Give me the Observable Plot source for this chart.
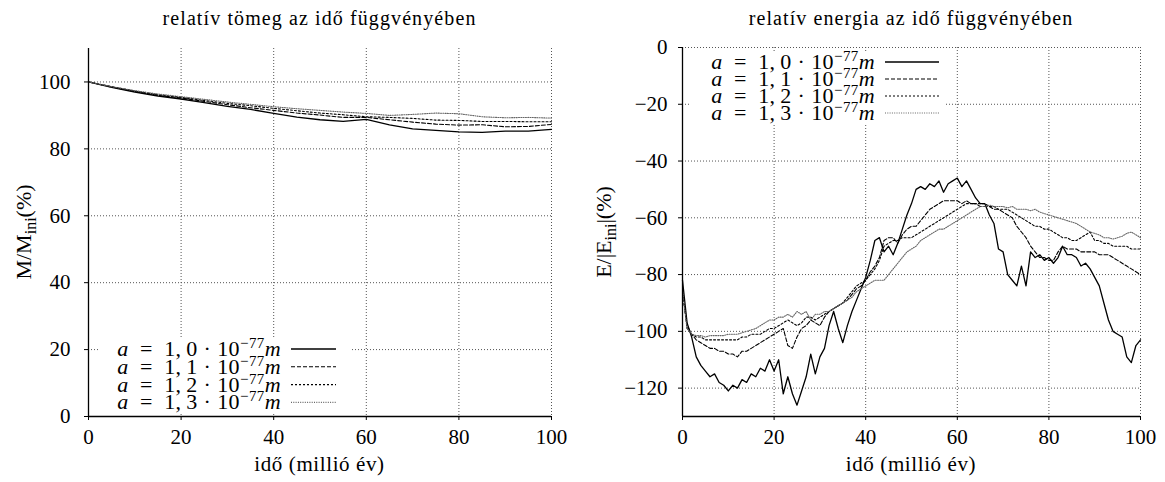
<!DOCTYPE html>
<html><head><meta charset="utf-8">
<script src="https://cdn.jsdelivr.net/npm/d3@7"></script>
<script src="https://cdn.jsdelivr.net/npm/@observablehq/plot@0.6"></script>
<style>
body{margin:0;background:#fff;font-family:"Liberation Serif",serif;}
#wrap{display:flex;width:1165px;height:482px;overflow:hidden;}
.panel{position:relative;}
.title{height:40px;box-sizing:border-box;padding-top:7px;font-size:20px;line-height:22px;text-align:center;color:#000;letter-spacing:1.1px;white-space:nowrap;}
svg text{white-space:pre;}
</style></head><body>
<div id="wrap"><div class="panel" id="left"></div><div class="panel" id="right"></div></div>
<script>
// ---------- data ----------
const seriesNames = ["1,0", "1,1", "1,2", "1,3"];
const titles = ["relatív tömeg az idő függvényében", "relatív energia az idő függvényében"];
const xLabel = "idő (millió év)";
const xTicks = [0, 20, 40, 60, 80, 100];
const massTicks = [0, 20, 40, 60, 80, 100];
const energyTicks = [0, -20, -40, -60, -80, -100, -120];

const timeMass = [0,5,10,15,20,25,30,35,40,45,50,55,60,65,70,75,80,85,90,95,100];
const mass10 = [100,98.4,97.0,95.8,94.9,93.8,92.7,91.8,90.6,89.5,88.7,88.2,88.8,87.2,86.0,85.5,85.1,84.9,85.3,85.3,85.8];
const mass11 = [100,98.5,97.2,96.0,95.2,94.2,93.2,92.3,91.5,90.7,90.1,89.4,89.4,88.7,88.0,87.4,87.1,87.2,86.6,86.7,87.3];
const mass12 = [100,98.6,97.3,96.2,95.4,94.5,93.6,92.9,92.1,91.4,90.7,90.2,89.6,89.4,89.1,88.6,88.5,88.2,88.2,88.1,88.1];
const mass13 = [100,98.6,97.4,96.4,95.6,94.8,94.0,93.3,92.6,92.0,91.5,91.0,90.6,90.0,90.3,90.7,90.5,89.6,89.3,89.4,89.2];

const timeEnergy = Array.from({length: 101}, (_, i) => i);
const energy10 = [-82,-97,-102,-109,-112,-114,-116,-115,-118,-119,
 -121,-119,-120,-117,-118,-115,-116,-113,-114,-110,
 -114,-110,-122,-116,-122,-126,-121,-116,-108,-115,
 -109,-106,-98,-93,-99,-104,-98,-93,-89,-85,
 -81,-75,-68,-67,-72,-70,-73,-69,-64,-59,
 -55,-50,-49,-50,-48,-49,-47,-51,-48,-47,
 -46,-49,-47,-50,-53,-55,-55,-59,-62,-71,
 -72,-80,-82,-84,-77,-84,-72,-74,-73,-75,
 -74,-76,-74,-70,-73,-73,-74,-77,-76,-78,
 -81,-84,-90,-96,-100,-101,-102,-109,-111,-105,-103];
const energy11 = [-86,-98,-101,-103,-104,-105,-106,-106,-107,-107,
 -108,-108,-109,-107,-107,-106,-105,-104,-103,-102,
 -101,-100,-99,-105,-106,-102,-99,-98,-96,-97,
 -98,-95,-93,-92,-91,-90,-89,-87,-85,-84,
 -82,-79,-77,-74,-68,-67,-67,-69,-66,-64,
 -63,-63,-61,-59,-57,-56,-55,-54,-54,-54,
 -54,-55,-54,-55,-55,-56,-56,-56,-57,-57,
 -58,-59,-60,-63,-65,-67,-70,-72,-74,-74,
 -75,-75,-72,-70,-71,-71,-71,-72,-72,-72,
 -72,-73,-73,-73,-74,-75,-76,-77,-78,-79,-80];
const energy12 = [-86,-99,-101,-102,-102,-103,-103,-103,-103,-103,
 -103,-103,-103,-102,-102,-101,-101,-101,-100,-99,
 -99,-98,-97,-96,-97,-98,-97,-95,-95,-96,
 -95,-94,-93,-92,-91,-90,-88,-86,-84,-83,
 -82,-80,-78,-75,-70,-69,-68,-68,-67,-67,
 -67,-66,-65,-64,-63,-62,-61,-60,-59,-58,
 -57,-56,-55,-55,-55,-55,-55,-56,-56,-57,
 -57,-57,-58,-59,-60,-61,-62,-63,-63,-64,
 -64,-65,-66,-67,-67,-68,-68,-67,-66,-65,
 -68,-68,-69,-69,-70,-70,-70,-70,-71,-71,-71];
const energy13 = [-86,-99,-101,-101.5,-101.5,-102,-101.5,-101.5,-101.5,-101.5,
 -101,-101,-101,-100.5,-100,-99.5,-99,-98,-97,-96,
 -96,-95,-95,-94,-95,-93,-94,-93,-96,-94,
 -94,-93,-93,-92,-91,-90,-89,-88,-86,-85,
 -84,-83,-82,-82,-82,-80,-78,-76,-74,-72,
 -71,-70,-68,-67,-66,-65,-64,-64,-63,-62,
 -61,-60,-59,-58,-57,-56,-56,-55.5,-56,-56,
 -56,-56.5,-56,-57,-57,-57,-57.5,-57,-58,-58.5,
 -59,-59.5,-60,-60.5,-61,-61.5,-62,-63,-64,-65,
 -65.5,-66,-67,-67,-67.5,-67,-66.5,-65.5,-65,-66,-67];

const massSeries = [mass10, mass11, mass12, mass13];
const energySeries = [energy10, energy11, energy12, energy13];

// ---------- styles ----------
const lineStyles = [
  {stroke: "#000", strokeWidth: 1.3, strokeDasharray: null},
  {stroke: "#000", strokeWidth: 1.1, strokeDasharray: "4,2"},
  {stroke: "#000", strokeWidth: 1.1, strokeDasharray: "2,2"},
  {stroke: "#666", strokeWidth: 1.1, strokeDasharray: "1,1.3"}
];
const gridStyle = {stroke: "#555", strokeOpacity: 1, strokeWidth: 1, strokeDasharray: "1,2"};
const FONT = "Liberation Serif";

function tidy(times, vals) { return times.map((t, i) => ({t, v: vals[i]})); }

function makePanel(cfg) {
  const host = document.getElementById(cfg.id);
  host.style.width = cfg.width + "px";
  const title = document.createElement("div");
  title.className = "title";
  title.style.paddingLeft = cfg.marginLeft + "px";
  title.style.paddingRight = cfg.marginRight + "px";
  title.textContent = cfg.title;
  host.appendChild(title);

  const marks = [
    Plot.gridX(cfg.xGrid, gridStyle),
    Plot.gridY(cfg.yGrid, gridStyle),
    ...cfg.series.map((vals, i) => Plot.line(tidy(cfg.times, vals), {x: "t", y: "v", ...lineStyles[i], strokeLinejoin: "round"})),
    Plot.ruleX([0], {stroke: "#000", strokeWidth: 1.3}),
    Plot.ruleY([cfg.yDomain[0]], {stroke: "#000", strokeWidth: 1.3}),
    Plot.axisX({ticks: xTicks, tickSize: 4, tickPadding: 9, label: null, fontSize: 21}),
    Plot.axisY({ticks: cfg.yTicks, tickSize: 4, tickPadding: cfg.yPad, label: null, fontSize: 21})
  ];
  const svg = Plot.plot({
    width: cfg.width, height: 442,
    marginLeft: cfg.marginLeft, marginRight: cfg.marginRight, marginTop: cfg.marginTop, marginBottom: 66,
    style: {fontFamily: FONT, fontSize: "21px", color: "#000", background: "#fff", overflow: "visible"},
    x: {domain: [0, 100]},
    y: {domain: cfg.yDomain},
    marks
  });
  host.appendChild(svg);

  const s = d3.select(svg);
  const plotW = cfg.width - cfg.marginLeft - cfg.marginRight;
  // x label
  s.append("text").attr("x", cfg.marginLeft + plotW / 2).attr("y", 431)
    .attr("text-anchor", "middle").attr("font-size", 21).attr("letter-spacing", "0.6px")
    .attr("fill", "#000").text(xLabel);
  // y label
  const yl = s.append("text").attr("transform", `translate(${cfg.ylabX},192) rotate(-90)`)
    .attr("text-anchor", "middle").attr("font-size", 22).attr("fill", "#000");
  yl.append("tspan").text(cfg.ylab[0]);
  yl.append("tspan").attr("dy", 5).attr("font-size", 16).text("ini");
  yl.append("tspan").attr("dy", -5).text(cfg.ylab[1]);
  // legend box
  const b = cfg.box;
  s.append("rect").attr("x", b[0]).attr("y", b[1]).attr("width", b[2]).attr("height", b[3]).attr("fill", "#fff");
  const L = cfg.legend;
  seriesNames.forEach((name, i) => {
    const cy = L.y0 + i * L.dy;
    const t = s.append("text").attr("x", L.textX).attr("y", cy + 7).attr("text-anchor", "end")
      .attr("font-size", 22).attr("fill", "#000").attr("letter-spacing", "0.4px");
    t.append("tspan").attr("font-style", "italic").text("a");
    t.append("tspan").text("\u2002=\u2002" + name.replace(",", ",\u2009") + "\u2005·\u200510");
    t.append("tspan").attr("dy", -8).attr("font-size", 15).text("−77");
    t.append("tspan").attr("dy", 8).attr("font-style", "italic").text("m");
    const st = lineStyles[i];
    s.append("line").attr("x1", L.sx1).attr("x2", L.sx2).attr("y1", cy).attr("y2", cy)
      .attr("stroke", st.stroke).attr("stroke-width", st.strokeWidth)
      .attr("stroke-dasharray", st.strokeDasharray);
  });
}

makePanel({
  id: "left", width: 580, marginLeft: 88, marginRight: 29, marginTop: 8,
  title: titles[0], yDomain: [0, 110], yTicks: massTicks,
  xGrid: [20, 40, 60, 80, 100], yGrid: [20, 40, 60, 80, 100], yPad: 14,
  times: timeMass, series: massSeries,
  ylab: ["M/M", "(%)"], ylabX: 31,
  box: [98, 298, 254, 76],
  legend: {y0: 309, dy: 17.8, textX: 281, sx1: 291, sx2: 336}
});
makePanel({
  id: "right", width: 585, marginLeft: 102, marginRight: 25, marginTop: 7,
  title: titles[1], yDomain: [-130, 0], yTicks: energyTicks,
  xGrid: [20, 40, 60, 80, 100], yGrid: energyTicks, yPad: 11,
  times: timeEnergy, series: energySeries,
  ylab: ["E/|E", "|(%)"], ylabX: 31,
  box: [110, 11, 256, 72],
  legend: {y0: 22, dy: 17, textX: 295, sx1: 305, sx2: 359}
});
</script>
</body></html>
